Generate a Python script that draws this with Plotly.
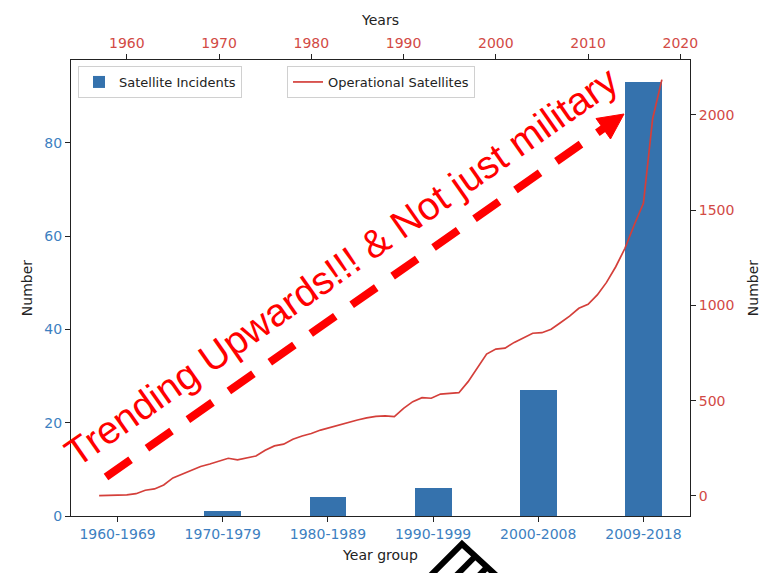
import plotly.graph_objects as go

# ---- data ----
year_groups = ["1960-1969", "1970-1979", "1980-1989", "1990-1999", "2000-2008", "2009-2018"]
incidents = [0, 1, 4, 6, 27, 93]

years = list(range(1957, 2019))
operational = [2, 4, 5, 6, 12, 30, 37, 58, 95, 115,
               138, 155, 168, 185, 198, 190, 200, 210, 240, 263,
               272, 298, 315, 328, 346, 360, 373, 386, 399, 410,
               418, 420, 416, 460, 495, 516, 513, 535, 540, 542,
               600, 670, 745, 771, 776, 806, 831, 854, 857, 875,
               909, 944, 985, 1006, 1055, 1121, 1203, 1300, 1422, 1536,
               1980, 2185]

note_text = "Trending Upwards!!! & Not just military"

# ---- layout geometry helpers (pixel -> paper) ----
W, H = 773, 573
L, R, T, B = 71, 690, 60, 516


def px(x, y):
    return (x - L) / (R - L), (B - y) / (B - T)


BLUE = "#3572ad"
BLUE_TXT = "#3d7fc1"
RED = "#d43f3a"
RED_TXT = "#d24a45"
FONT = "DejaVu Sans"

fig = go.Figure()
fig.add_trace(go.Bar(
    x=year_groups, y=incidents, width=0.35, marker_color=BLUE,
    marker_line_width=0, name="Satellite Incidents", showlegend=True,
    xaxis="x", yaxis="y", legend="legend"))
fig.add_trace(go.Scatter(
    x=years, y=operational, mode="lines", line=dict(color=RED, width=1.7),
    name="Operational Satellites", showlegend=True,
    xaxis="x2", yaxis="y2", legend="legend2"))

axis_common = dict(showgrid=False, zeroline=False, showline=True, linecolor="#222",
                   linewidth=1, ticks="outside", ticklen=5, tickcolor="#222", tickwidth=1)

shapes = []
# dashed arrow shaft
x0, y0 = px(106, 477)
x1, y1 = px(604, 128)
shapes.append(dict(type="line", xref="paper", yref="paper", x0=x0, y0=y0, x1=x1, y1=y1,
                   line=dict(color="red", width=8, dash="30px,20px"), layer="above"))
# arrowhead
t = px(624, 114)
a = px(610.5, 139)
b = px(596, 118.5)
shapes.append(dict(type="path", xref="paper", yref="paper",
                   path=f"M {t[0]} {t[1]} L {a[0]} {a[1]} L {b[0]} {b[1]} Z",
                   fillcolor="red", line=dict(color="red", width=1), layer="above"))

# black hatched glyph at the bottom
g_top = px(462, 544)
g_right = px(499, 578)
g_bot = px(466, 612)
g_left = px(429, 577)
shapes.append(dict(type="path", xref="paper", yref="paper",
                   path=(f"M {g_top[0]} {g_top[1]} L {g_right[0]} {g_right[1]} "
                         f"L {g_bot[0]} {g_bot[1]} L {g_left[0]} {g_left[1]} Z"),
                   line=dict(color="black", width=6), fillcolor="rgba(0,0,0,0)", layer="above"))
for f in (0.36, 0.68):
    p0 = (462 + (499 - 462) * f, 544 + (578 - 544) * f)
    p1 = (429 + (466 - 429) * f, 577 + (612 - 577) * f)
    q0, q1 = px(*p0), px(*p1)
    shapes.append(dict(type="line", xref="paper", yref="paper", x0=q0[0], y0=q0[1],
                       x1=q1[0], y1=q1[1], line=dict(color="black", width=6), layer="above"))

cx, cy = px(341, 266)

legend_style = dict(xanchor="left", yanchor="top", bgcolor="white", bordercolor="#d0d0d0",
                    borderwidth=1, font=dict(size=13, color="#222"), orientation="v")

fig.update_layout(
    width=W, height=H, autosize=False, showlegend=True,
    margin=dict(l=L, r=W - R, t=T, b=H - B, pad=0),
    plot_bgcolor="white", paper_bgcolor="white",
    font=dict(family=FONT, size=14, color="#222"),
    bargap=0,
    xaxis=dict(**axis_common, type="category", range=[-0.4425, 5.4425],
               tickfont=dict(color=BLUE_TXT, size=14),
               title=dict(text="Year group", font=dict(size=14, color="#222"), standoff=9)),
    yaxis=dict(**axis_common, range=[0, 97.8], tickvals=[0, 20, 40, 60, 80],
               tickfont=dict(color=BLUE_TXT, size=14),
               title=dict(text="Number", font=dict(size=14, color="#222"), standoff=8)),
    xaxis2=dict(**axis_common, overlaying="x", side="top", anchor="y",
                range=[1953.95, 2021.05], tickvals=[1960, 1970, 1980, 1990, 2000, 2010, 2020],
                tickfont=dict(color=RED_TXT, size=14),
                title=dict(text="Years", font=dict(size=14, color="#222"), standoff=6)),
    yaxis2=dict(**axis_common, overlaying="y", side="right", anchor="x",
                range=[-105, 2288], tickvals=[0, 500, 1000, 1500, 2000],
                tickfont=dict(color=RED_TXT, size=14),
                title=dict(text="Number", font=dict(size=14, color="#222"), standoff=14)),
    legend=dict(x=px(78, 0)[0], y=px(0, 66)[1], **legend_style),
    legend2=dict(x=px(287, 0)[0], y=px(0, 66)[1], **legend_style),
    shapes=shapes,
    annotations=[dict(text=note_text, xref="paper", yref="paper", x=cx, y=cy,
                      xanchor="center", yanchor="middle", showarrow=False, textangle=-35,
                      font=dict(family="Liberation Sans", size=39, color="red"))],
)

fig.write_html("out.html")
